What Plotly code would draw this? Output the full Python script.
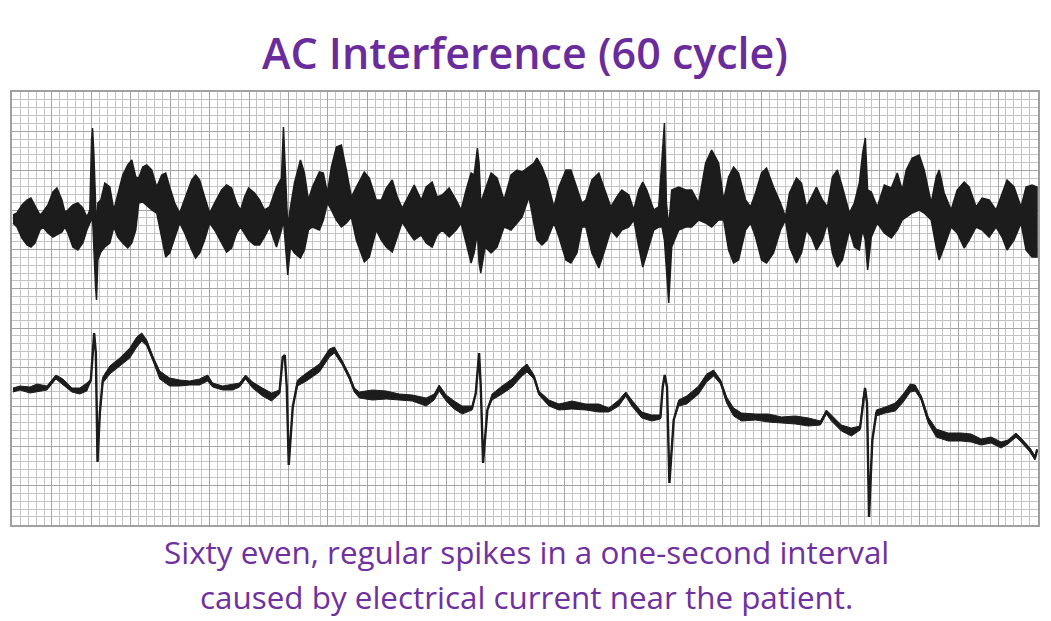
import plotly.graph_objects as go

# top strip: 60 cycle noise drawn as an envelope (upper edge / lower edge)
top_x = [13, 17, 22, 27, 31, 35, 40, 43, 48, 53, 57, 62, 65, 68, 73, 78, 83, 87,
         90, 91.7, 92.7, 94, 95.7, 96.7, 98, 101, 105, 110, 114, 118, 123, 128, 132,
         136, 139, 143, 147, 152, 157, 162, 166, 170, 175, 180, 185, 192, 196, 200,
         205, 210, 215, 222, 227, 232, 237, 241, 245, 249, 255, 260, 265, 270, 277,
         282, 284, 285.7, 288.3, 291, 295, 301, 305, 309, 313, 320, 324, 328, 332,
         337, 342, 347, 352, 357, 365, 370, 377, 382, 387, 393, 398, 403, 410, 415,
         422, 427, 433, 438, 443, 450, 457, 462, 467, 472, 475, 478.3, 480, 481.7,
         486, 492, 498, 505, 512, 518, 523, 530, 535, 538, 543, 548, 555, 560, 567,
         572, 578, 583, 587, 593, 600, 605, 612, 618, 623, 630, 635, 640, 644, 648,
         655, 660, 663.3, 665.7, 667.7, 670, 673, 680, 687, 693, 700, 707, 713, 720,
         725, 730, 735, 740, 747, 752, 757, 763, 768, 775, 782, 787, 791, 798, 803,
         808, 813, 818, 824, 829, 834, 839, 844, 851, 856, 861, 864.3, 867, 869.3,
         873, 879, 886, 893, 899, 904, 908, 914, 921, 926, 933, 938, 941, 946, 953,
         959, 966, 971, 978, 984, 991, 998, 1004, 1009, 1016, 1023, 1028, 1034, 1039]
top_hi = [215, 213, 205, 200, 198, 205, 215, 212, 205, 192, 188, 200, 212, 210,
          205, 203, 208, 217, 210, 140, 128, 153, 220, 230, 203, 200, 183, 187, 210,
          195, 175, 165, 160, 177, 178, 167, 165, 170, 187, 175, 173, 187, 203, 213,
          200, 180, 175, 180, 197, 213, 203, 190, 185, 188, 203, 210, 197, 188, 193,
          200, 210, 207, 187, 178, 127, 170, 227, 207, 183, 160, 173, 200, 187, 172,
          173, 193, 167, 147, 145, 170, 197, 187, 172, 178, 200, 200, 188, 180, 197,
          208, 195, 185, 200, 187, 182, 197, 195, 188, 200, 210, 190, 173, 175, 148,
          163, 203, 190, 173, 178, 200, 175, 170, 172, 167, 163, 158, 167, 180, 207,
          187, 170, 170, 187, 203, 200, 180, 173, 187, 207, 197, 190, 195, 210, 190,
          182, 190, 210, 207, 160, 123, 203, 227, 190, 187, 190, 190, 203, 163, 150,
          163, 200, 177, 167, 173, 200, 207, 193, 173, 168, 187, 203, 217, 193, 178,
          183, 207, 197, 187, 200, 207, 177, 170, 187, 213, 203, 183, 153, 138, 190,
          192, 207, 185, 188, 173, 190, 170, 158, 155, 170, 203, 177, 170, 193, 210,
          190, 182, 187, 207, 198, 200, 210, 193, 180, 187, 207, 187, 185, 187]
top_lo = [223, 227, 238, 245, 247, 243, 230, 227, 233, 237, 235, 232, 227, 233,
          247, 250, 243, 230, 223, 220, 217, 237, 287, 300, 260, 252, 247, 243, 227,
          237, 243, 248, 243, 230, 203, 202, 205, 210, 213, 237, 257, 253, 237, 223,
          233, 250, 258, 253, 240, 223, 230, 243, 252, 248, 233, 227, 233, 240, 245,
          245, 237, 227, 247, 230, 220, 243, 275, 247, 253, 258, 250, 230, 227, 230,
          220, 203, 210, 220, 227, 223, 217, 240, 262, 257, 230, 240, 247, 252, 237,
          222, 233, 240, 235, 243, 247, 235, 230, 237, 230, 223, 243, 263, 253, 233,
          263, 273, 247, 253, 247, 227, 230, 223, 217, 197, 223, 240, 245, 240, 223,
          237, 260, 263, 253, 227, 227, 253, 268, 253, 230, 237, 230, 227, 220, 247,
          267, 253, 230, 227, 227, 240, 270, 303, 247, 230, 227, 227, 220, 223, 227,
          220, 220, 250, 263, 260, 230, 223, 237, 260, 263, 253, 230, 220, 247, 263,
          253, 230, 237, 250, 240, 223, 253, 267, 260, 230, 247, 250, 230, 240, 270,
          237, 223, 233, 238, 230, 220, 217, 213, 210, 213, 220, 247, 260, 247, 227,
          233, 248, 240, 227, 230, 237, 227, 237, 250, 240, 223, 250, 257, 257]

# bottom strip: baseline trace and the half-width of the small 60 cycle ripple on it
bot_x = [13, 20, 30, 37, 47, 56, 63, 72, 80, 87, 91, 94.3, 96, 97.7, 100, 103, 110,
         120, 130, 137, 142, 147, 153, 160, 170, 180, 190, 200, 208, 213, 223, 233,
         240, 246, 253, 263, 272, 280, 283.3, 285.3, 287.3, 289.3, 293.3, 298, 307,
         320, 330, 335, 343, 350, 355, 360, 373, 387, 400, 413, 427, 435, 440, 447,
         455, 463, 473, 476.7, 480, 481.7, 484, 488.3, 493, 503, 513, 523, 528, 535,
         540, 550, 560, 573, 587, 600, 610, 620, 627, 633, 643, 653, 661.7, 664, 666,
         668.3, 670.7, 675, 680, 688, 700, 708, 715, 722, 728, 735, 743, 757, 770,
         783, 797, 810, 822, 828, 833, 843, 853, 861.7, 865, 866.7, 868.7, 870.7, 874,
         878, 887, 897, 905, 912, 917, 923, 930, 938, 950, 963, 973, 983, 993, 1003,
         1010, 1018, 1023, 1032, 1037, 1039]
bot_y = [390, 388, 390, 388, 388, 377, 382, 390, 391, 387, 380, 333, 353, 462, 413,
         380, 370, 362, 353, 342, 337, 343, 358, 375, 382, 383, 383, 382, 378, 385,
         388, 387, 385, 377, 385, 392, 397, 392, 357, 355, 387, 465, 407, 383, 377,
         368, 353, 350, 363, 377, 390, 395, 395, 395, 397, 398, 402, 397, 388, 398,
         405, 410, 408, 393, 353, 387, 463, 410, 397, 390, 383, 372, 368, 377, 393,
         403, 407, 405, 407, 408, 410, 403, 394, 403, 415, 418, 417, 387, 375, 387,
         483, 420, 403, 400, 390, 378, 373, 382, 400, 412, 417, 417, 418, 420, 420,
         422, 423, 412, 418, 428, 432, 428, 397, 388, 403, 517, 440, 413, 410, 407,
         398, 388, 388, 398, 420, 433, 437, 437, 438, 442, 440, 445, 442, 435, 440,
         450, 458, 450]
bot_ripple = [2, 2, 3, 4, 2, 2, 3, 2, 3, 4, 1, 0, 0, 0, 0, 3, 4, 4, 5, 5, 4, 3, 2, 4,
              4, 3, 2, 3, 3, 2, 2, 3, 2, 2, 3, 4, 4, 2, 0, 0, 0, 0, 0, 3, 4, 4, 4, 3,
              2, 2, 2, 3, 5, 4, 3, 3, 4, 3, 3, 3, 4, 4, 2, 0, 0, 0, 0, 0, 3, 4, 4, 4,
              4, 2, 2, 3, 3, 4, 3, 4, 2, 3, 2, 3, 3, 3, 2, 0, 0, 0, 0, 0, 3, 4, 4, 4,
              3, 2, 3, 4, 4, 3, 4, 3, 4, 4, 2, 2, 3, 3, 4, 2, 0, 0, 0, 0, 0, 3, 3, 4,
              4, 4, 3, 2, 3, 4, 4, 4, 4, 3, 3, 3, 2, 2, 2, 2, 2, 1]

title = "AC Interference (60 cycle)"
caption = ["Sixty even, regular spikes in a one-second interval",
           "caused by electrical current near the patient."]

purple = "#6a2c9c"
ink = "#1c1c1c"
x_range = [12, 1040]
y_range = [525, 92]

fig = go.Figure()

# noisy top strip as a solid band between the two envelopes
fig.add_trace(go.Scatter(
    x=top_x + top_x[::-1], y=top_hi + top_lo[::-1],
    fill="toself", fillcolor=ink, mode="lines",
    line=dict(color=ink, width=1.5), hoverinfo="skip", showlegend=False))

# ripple around the lower strip
up = [y - r for y, r in zip(bot_y, bot_ripple)]
dn = [y + r for y, r in zip(bot_y, bot_ripple)]
fig.add_trace(go.Scatter(
    x=bot_x + bot_x[::-1], y=up + dn[::-1],
    fill="toself", fillcolor=ink, mode="lines",
    line=dict(color=ink, width=1), hoverinfo="skip", showlegend=False))
fig.add_trace(go.Scatter(
    x=bot_x, y=bot_y, mode="lines",
    line=dict(color=ink, width=2.4), hoverinfo="skip", showlegend=False))

# empty trace so the second (major grid) axes get drawn
fig.add_trace(go.Scatter(x=[], y=[], xaxis="x2", yaxis="y2",
                         hoverinfo="skip", showlegend=False))

axis_common = dict(zeroline=False, showticklabels=False, ticks="", fixedrange=True)
fig.update_layout(
    xaxis=dict(range=x_range, tick0=12.5, dtick=7.9, showgrid=True,
               gridcolor="#c4c4c4", gridwidth=1,
               showline=True, linecolor="#a0a0a0", linewidth=2, mirror=True,
               **axis_common),
    yaxis=dict(range=y_range, tick0=92, dtick=7.87, showgrid=True,
               gridcolor="#c4c4c4", gridwidth=1,
               showline=True, linecolor="#a0a0a0", linewidth=2, mirror=True,
               **axis_common),
    xaxis2=dict(range=x_range, overlaying="x", tick0=12.5, dtick=39.5,
                showgrid=True, gridcolor="#a4a4a4", gridwidth=1, **axis_common),
    yaxis2=dict(range=y_range, overlaying="y", tick0=92, dtick=39.35,
                showgrid=True, gridcolor="#a4a4a4", gridwidth=1, **axis_common),
)

fig.add_annotation(text=title, x=0.5, y=1.092, xanchor="center", yanchor="middle",
                   xref="paper", yref="paper", showarrow=False,
                   font=dict(family="Open Sans", size=43, weight=600, color=purple))
fig.add_annotation(text=caption[0], x=0.501, y=-0.062, xanchor="center",
                   yanchor="middle", xref="paper", yref="paper", showarrow=False,
                   font=dict(family="Open Sans", size=31.4, color="#7030a0"))
fig.add_annotation(text=caption[1], x=0.501, y=-0.164, xanchor="center",
                   yanchor="middle", xref="paper", yref="paper", showarrow=False,
                   font=dict(family="Open Sans", size=31.4, color="#7030a0"))

fig.update_layout(width=1051, height=621,
                  margin=dict(l=12, r=11, t=92, b=96),
                  paper_bgcolor="white", plot_bgcolor="white")

fig.write_html("out.html", config={"displayModeBar": False},
               post_script="document.body.style.margin='0';")
